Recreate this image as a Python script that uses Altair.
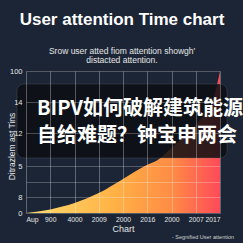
import json
import altair as alt
import pandas as pd

# ---- data ----
x_pos = [0, 1, 2, 3, 4, 5, 5.4, 6, 7, 7.8, 8]
values = [0, 2.5, 7, 14, 24, 34, 37, 46, 62, 85, 100]
x_labels = ['Aup', '900', '4000', '2009', '2000', '2016', '2000', '2007', '2017']
y_ticks = [0, 11, 22, 33, 56, 78, 100]
y_labels = ['0', '8', '', '5', '12', '14', '100']

title_text = ["User attention Time chart"]
subtitle_lines = ["Srow user atted fiom attention showgh'", "distacted attention."]
banner_lines = ["BIPV如何破解建筑能源", "自给难题？钟宝申两会"]
note_text = ["- Segnified User attention"]
x_title = "Chart"
y_title = "Ditrazlem ast Tins"

BG = "#1b2535"
FONT = "Liberation Sans"
CJK = "Noto Sans CJK SC"

df = pd.DataFrame({"x": x_pos, "v": values})

x_expr = json.dumps(x_labels) + "[datum.value]"
y_expr = ""
for t, l in zip(y_ticks, y_labels):
    y_expr += f"datum.value == {t} ? '{l}' : "
y_expr += "''"

grad = alt.Gradient(
    gradient="linear",
    stops=[
        alt.GradientStop(color="#ffdc70", offset=0),
        alt.GradientStop(color="#ffb245", offset=0.45),
        alt.GradientStop(color="#ff8c45", offset=0.75),
        alt.GradientStop(color="#ff4a58", offset=1),
    ],
    x1=0, x2=1, y1=0, y2=0,
)

area = alt.Chart(df).mark_area(interpolate="monotone", color=grad).encode(
    x=alt.X("x:Q", scale=alt.Scale(domain=[0, 8], nice=False),
            axis=alt.Axis(values=list(range(len(x_labels))), labelExpr=x_expr,
                          labelOverlap=False, labelBound=False,
                          title=x_title, grid=True, domain=False, ticks=False,
                          gridColor="#ffffff", gridOpacity=0.3,
                          labelColor="#e6e6e6", labelFontSize=6.8, labelPadding=3,
                          labelFont=FONT, titleFont=FONT, titleColor="#e6e6e6",
                          titleFontSize=9, titleFontWeight="normal", titlePadding=2,
                          zindex=1)),
    y=alt.Y("v:Q", scale=alt.Scale(domain=[0, 100], nice=False),
            axis=alt.Axis(values=y_ticks, labelExpr=y_expr, title=y_title,
                          labelOverlap=False,
                          grid=True, domain=False, ticks=False,
                          gridColor="#ffffff", gridOpacity=0.25,
                          labelColor="#e6e6e6", labelFontSize=7.5, labelPadding=4,
                          labelFont=FONT, titleFont=FONT, titleColor="#e6e6e6",
                          titleFontSize=8.5, titleFontWeight="normal",
                          titleX=-15, titleY=75, titleAngle=-90,
                          titleAlign="center", titleBaseline="middle",
                          zindex=1)),
)

title = alt.Chart(pd.DataFrame({"t": title_text})).mark_text(
    font=FONT, fontSize=17, fontWeight="bold", color="#ffffff", align="center", baseline="alphabetic"
).encode(text="t:N", x=alt.value(96), y=alt.value(-46))

sub1 = alt.Chart(pd.DataFrame({"t": subtitle_lines[:1]})).mark_text(
    font=FONT, fontSize=8.5, color="#e6e6e6", align="center", baseline="alphabetic"
).encode(text="t:N", x=alt.value(96), y=alt.value(-17))
sub2 = alt.Chart(pd.DataFrame({"t": subtitle_lines[1:]})).mark_text(
    font=FONT, fontSize=8.5, color="#e6e6e6", align="center", baseline="alphabetic"
).encode(text="t:N", x=alt.value(96), y=alt.value(-8))

banner = alt.Chart(pd.DataFrame({"a": [0]})).mark_rect(
    color="#0c0e12", opacity=0.85, cornerRadius=7, stroke="#6a6f78", strokeOpacity=0.35, strokeWidth=1
).encode(x=alt.value(-9), x2=alt.value(201), y=alt.value(13), y2=alt.value(87))

b1 = alt.Chart(pd.DataFrame({"t": banner_lines[:1]})).mark_text(
    font=CJK, fontSize=20, fontWeight="bold", color="#ffffff", align="left", baseline="middle"
).encode(text="t:N", x=alt.value(11), y=alt.value(38))
b2 = alt.Chart(pd.DataFrame({"t": banner_lines[1:]})).mark_text(
    font=CJK, fontSize=20, fontWeight="bold", color="#ffffff", align="left", baseline="middle"
).encode(text="t:N", x=alt.value(11), y=alt.value(65))

note = alt.Chart(pd.DataFrame({"t": note_text})).mark_text(
    font=FONT, fontSize=5.5, color="#d0d0d0", align="left", baseline="middle"
).encode(text="t:N", x=alt.value(146), y=alt.value(166))

chart = alt.layer(area, title, sub1, sub2, banner, b1, b2, note).properties(
    width=194, height=142,
    padding={"left": 26, "top": 71, "right": 23, "bottom": 30},
    autosize="none",
    background=BG,
).configure_view(stroke=None)

chart.save("out.html", embed_options={"renderer": "svg", "actions": False})
